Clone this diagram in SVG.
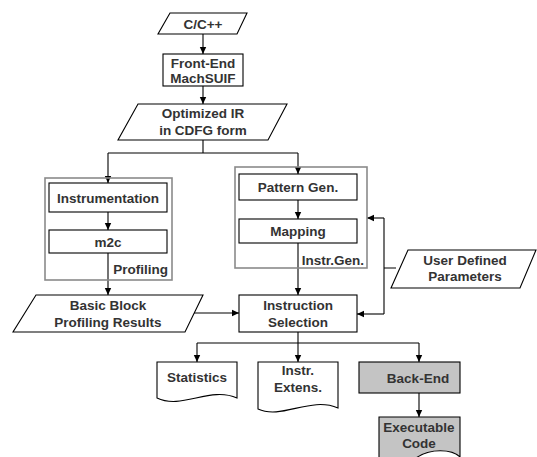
<svg xmlns="http://www.w3.org/2000/svg" width="537" height="457" viewBox="0 0 537 457">
<defs>
<marker id="ah" markerWidth="8" markerHeight="8" refX="7" refY="4" orient="auto" markerUnits="userSpaceOnUse">
<path d="M0,0.8 L7,4 L0,7.2 Z" fill="#000"/>
</marker>
<style>
.s{fill:#fff;stroke:#000;stroke-width:1.1}
.g{fill:#c4c4c4;stroke:#000;stroke-width:1.1}
.c{fill:none;stroke:#8a8a8a;stroke-width:1.6}
.l{fill:none;stroke:#000;stroke-width:1.1}
.a{fill:none;stroke:#000;stroke-width:1.1;marker-end:url(#ah)}
text{font-family:"Liberation Sans",Arial,sans-serif;font-weight:bold;font-size:13.5px;fill:#333;text-anchor:middle}
.r{text-anchor:end}
</style>
</defs>
<g id="connectors">
<path class="a" d="M203,34 V54"/>
<path class="a" d="M203,86 V104"/>
<path class="l" d="M203,140 V153 M108,153 H298"/>
<path class="a" d="M108,153 V183"/>
<path class="a" d="M298,153 V174"/>
<path class="a" d="M108,212 V230"/>
<path class="a" d="M298,200 V219"/>
<path class="a" d="M108,253 V295"/>
<path class="a" d="M298,243 V295"/>
<path class="a" d="M194,313 H239"/>
<path class="l" d="M396,268 H384 M384,218 V314"/>
<path class="a" d="M384,218 H367"/>
<path class="a" d="M384,314 H357"/>
<path class="l" d="M298,332 V343 M197,343 H419"/>
<path class="a" d="M197,343 V362"/>
<path class="a" d="M298,343 V362"/>
<path class="a" d="M419,343 V362"/>
<path class="a" d="M419,393 V417"/>
</g>
<g id="c-cpp">
<path class="s" d="M170,13 H247 L237,34 H158 Z"/>
<text x="203" y="28.5">C/C++</text>
</g>
<g id="front-end">
<rect class="s" x="163" y="54" width="80" height="32"/>
<text x="203" y="67.5">Front-End</text>
<text x="203" y="83">MachSUIF</text>
</g>
<g id="optimized-ir">
<path class="s" d="M138,104 H287 L268,140 H118 Z"/>
<text x="203" y="118">Optimized IR</text>
<text x="203" y="135">in CDFG form</text>
</g>
<g id="profiling">
<rect class="c" x="45" y="178" width="127" height="102"/>
<text class="r" x="168" y="274">Profiling</text>
</g>
<g id="instrumentation">
<rect class="s" x="49" y="183" width="118" height="29"/>
<text x="108" y="202.5">Instrumentation</text>
</g>
<g id="m2c">
<rect class="s" x="49" y="230" width="118" height="23"/>
<text x="108" y="246.5">m2c</text>
</g>
<g id="instr-gen">
<rect class="c" x="235" y="167" width="132" height="101"/>
<text class="r" x="364" y="264.5">Instr.Gen.</text>
</g>
<g id="pattern-gen">
<rect class="s" x="239" y="174" width="118" height="26"/>
<text x="298" y="191.5">Pattern Gen.</text>
</g>
<g id="mapping">
<rect class="s" x="239" y="219" width="118" height="24"/>
<text x="298" y="235.5">Mapping</text>
</g>
<g id="user-params">
<path class="s" d="M408,250 H536 L520,288 H391 Z"/>
<text x="465" y="264.5">User Defined</text>
<text x="465" y="281">Parameters</text>
</g>
<g id="basic-block">
<path class="s" d="M36,295 H203 L185,332 H13 Z"/>
<text x="108" y="309.5">Basic Block</text>
<text x="108" y="326.5">Profiling Results</text>
</g>
<g id="instr-selection">
<rect class="s" x="239" y="295" width="118" height="37"/>
<text x="298" y="309.5">Instruction</text>
<text x="298" y="326.5">Selection</text>
</g>
<g id="statistics">
<path class="s" d="M157,362 H237 V398 C210,386 182,410 157,398 Z"/>
<text x="197" y="382">Statistics</text>
</g>
<g id="instr-extens">
<path class="s" d="M258,362 H338 V408 C310,396 282,420 258,409 Z"/>
<text x="298" y="375">Instr.</text>
<text x="298" y="392">Extens.</text>
</g>
<g id="back-end">
<rect class="g" x="359" y="362" width="101" height="31"/>
<text x="418" y="382.5">Back-End</text>
</g>
<g id="executable">
<path class="g" d="M379,417 H460 V457 C452,449 430,448 416,458 L379,470 Z"/>
<text x="419" y="432">Executable</text>
<text x="419" y="447.5">Code</text>
</g>
</svg>
